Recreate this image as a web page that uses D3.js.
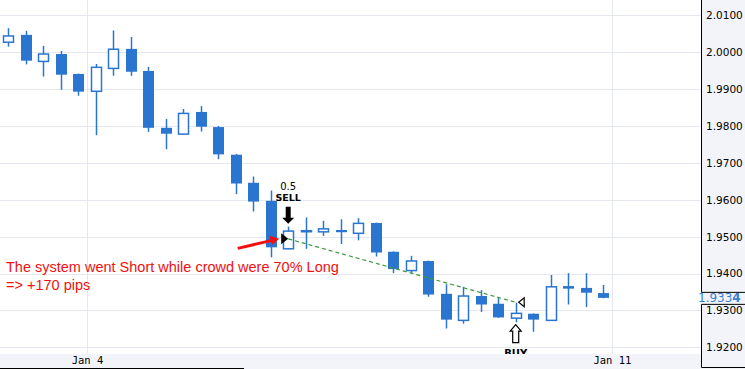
<!DOCTYPE html>
<html>
<head>
<meta charset="utf-8">
<script src="https://cdn.jsdelivr.net/npm/d3@7"></script>
<style>
  body { margin: 0; background: #fff; }
  svg { display: block; }
</style>
</head>
<body>
<div id="chart"></div>
<script>
// 4h candles
const opens  = [2.0027, 2.0047, 1.9975, 1.9995, 1.9941, 1.9894, 1.9956, 2.0009, 1.9949, 1.9795,
                1.9778, 1.9838, 1.9797, 1.9722, 1.9646, 1.9597, 1.9467, 1.9515, 1.9513, 1.9518,
                1.9509, 1.9537, 1.9459, 1.9408, 1.9434, 1.9345, 1.9273, 1.9339, 1.9318, 1.9279,
                1.9291, 1.9273, 1.9366, 1.9361, 1.9347];
const highs  = [2.0065, 2.0058, 2.0017, 2.0003, 1.9942, 1.9968, 2.0059, 2.0041, 1.9960, 1.9819,
                1.9846, 1.9854, 1.9800, 1.9724, 1.9663, 1.9625, 1.9527, 1.9552, 1.9543, 1.9547,
                1.9550, 1.9538, 1.9460, 1.9448, 1.9435, 1.9371, 1.9364, 1.9355, 1.9335, 1.9321,
                1.9292, 1.9396, 1.9401, 1.9401, 1.9369];
const lows   = [2.0015, 1.9967, 1.9934, 1.9898, 1.9882, 1.9775, 1.9936, 1.9936, 1.9784, 1.9737,
                1.9777, 1.9785, 1.9710, 1.9615, 1.9568, 1.9444, 1.9466, 1.9467, 1.9502, 1.9480,
                1.9490, 1.9446, 1.9401, 1.9401, 1.9337, 1.9251, 1.9264, 1.9296, 1.9280, 1.9268,
                1.9242, 1.9272, 1.9316, 1.9309, 1.9333];
const closes = [2.0044, 1.9977, 1.9995, 1.9939, 1.9893, 1.9959, 2.0008, 1.9947, 1.9795, 1.9779,
                1.9834, 1.9798, 1.9723, 1.9644, 1.9595, 1.9471, 1.9515, 1.9516, 1.9521, 1.9512,
                1.9536, 1.9457, 1.9412, 1.9434, 1.9343, 1.9275, 1.9339, 1.9316, 1.9281, 1.9292,
                1.9275, 1.9364, 1.9359, 1.9348, 1.9334];

const priceTicks = [1.92, 1.93, 1.94, 1.95, 1.96, 1.97, 1.98, 1.99, 2.00, 2.01];
const dateTicks  = [4.5, 34.5];        // day boundaries (candle index)
const dateLabels = ["Jan 4", "Jan 11"];
const lastPrice = 1.9334;

const entry = { i: 16, price: 1.9494, size: "0.5", side: "SELL" };
const exit  = { i: 29, price: 1.9322, side: "BUY" };
const noteLines = ["The system went Short while crowd were 70% Long", "=> +170 pips"];

const width = 745, height = 369;
const plotRight = 701, plotBottom = 354;
const blue = "#2a75cf";

const candles = opens.map((o, i) => ({ i, o, h: highs[i], l: lows[i], c: closes[i] }));

const x = d3.scaleLinear().domain([0, 34]).range([8.2, 603.2]);
const y = d3.scaleLinear().domain([1.92, 2.01]).range([347.3, 15.3]);

const svg = d3.select("#chart").append("svg")
  .attr("width", width)
  .attr("height", height)
  .style("font-family", "DejaVu Sans, sans-serif");

// gridlines
svg.append("g").selectAll("line")
  .data(priceTicks)
  .enter().append("line")
  .attr("x1", 0).attr("x2", plotRight)
  .attr("y1", d => Math.round(y(d)) + 0.5).attr("y2", d => Math.round(y(d)) + 0.5)
  .attr("stroke", "#e6e8ef");
svg.append("g").selectAll("line")
  .data(dateTicks)
  .enter().append("line")
  .attr("x1", d => Math.round(x(d)) + 0.5).attr("x2", d => Math.round(x(d)) + 0.5)
  .attr("y1", 0).attr("y2", plotBottom)
  .attr("stroke", "#e6e8ef");

// candles
const g = svg.append("g");
g.selectAll("line.wick")
  .data(candles)
  .enter().append("line")
  .attr("class", "wick")
  .attr("x1", d => Math.round(x(d.i)) + 0.5)
  .attr("x2", d => Math.round(x(d.i)) + 0.5)
  .attr("y1", d => y(d.h))
  .attr("y2", d => y(d.l))
  .attr("stroke", blue)
  .attr("stroke-width", 1.5);
g.selectAll("rect.body")
  .data(candles)
  .enter().append("rect")
  .attr("class", "body")
  .attr("x", d => d.c >= d.o ? Math.round(x(d.i)) - 4.5 : Math.round(x(d.i)) - 5)
  .attr("width", d => d.c >= d.o ? 10 : 11)
  .attr("y", d => y(Math.max(d.o, d.c)))
  .attr("height", d => Math.max(1, Math.abs(y(d.o) - y(d.c))))
  .attr("fill", d => d.c >= d.o ? "#fff" : blue)
  .attr("stroke", d => d.c >= d.o ? blue : "none")
  .attr("stroke-width", 1.5);

// trade line
svg.append("line")
  .attr("x1", x(entry.i)).attr("y1", y(entry.price))
  .attr("x2", x(exit.i)).attr("y2", y(exit.price))
  .attr("stroke", "#3a9a3a")
  .attr("stroke-width", 1.2)
  .attr("stroke-dasharray", "4,3");

// entry marker + sell arrow
const ex = x(entry.i), ey = y(entry.price);
svg.append("path")
  .attr("d", `M${ex - 7},${ey - 5.5}L${ex},${ey}L${ex - 7},${ey + 5.5}Z`)
  .attr("fill", "#000");
const sTop = y(highs[entry.i]) - 3;
svg.append("path")
  .attr("d", `M${ex - 2.5},${sTop - 17}H${ex + 2.5}V${sTop - 6}H${ex + 6}L${ex},${sTop}L${ex - 6},${sTop - 6}H${ex - 2.5}Z`)
  .attr("fill", "#000");
svg.append("text")
  .attr("x", ex).attr("y", sTop - 34)
  .attr("text-anchor", "middle")
  .attr("font-size", 10)
  .text(entry.size);
svg.append("text")
  .attr("x", ex).attr("y", sTop - 23)
  .attr("text-anchor", "middle")
  .attr("font-size", 9.5)
  .attr("font-weight", "bold")
  .text(entry.side);

// red arrow to the entry
svg.append("line")
  .attr("x1", x(13) + 2).attr("y1", ey + 9.5)
  .attr("x2", ex - 16).attr("y2", ey + 1.5)
  .attr("stroke", "#f01010")
  .attr("stroke-width", 3);
svg.append("path")
  .attr("d", `M${ex - 9},${ey}L${ex - 19},${ey - 3}L${ex - 16},${ey + 6}Z`)
  .attr("fill", "#f01010");

// exit marker + buy arrow
const xx = x(exit.i), xy = y(exit.price);
svg.append("path")
  .attr("d", `M${xx + 3},${xy}L${xx + 8.5},${xy - 4.5}L${xx + 8.5},${xy + 4.5}Z`)
  .attr("fill", "#fff")
  .attr("stroke", "#000")
  .attr("stroke-width", 1.2);
const bTop = y(lows[exit.i]) + 2.5;
svg.append("path")
  .attr("d", `M${xx},${bTop}L${xx + 5.5},${bTop + 6.5}H${xx + 3}V${bTop + 18}H${xx - 3}V${bTop + 6.5}H${xx - 5.5}Z`)
  .attr("fill", "#fff")
  .attr("stroke", "#000")
  .attr("stroke-width", 1.2);
svg.append("text")
  .attr("x", xx).attr("y", bTop + 32)
  .attr("text-anchor", "middle")
  .attr("font-size", 10)
  .attr("font-weight", "bold")
  .text(exit.side);

// note
svg.append("g").selectAll("text")
  .data(noteLines)
  .enter().append("text")
  .attr("x", 6)
  .attr("y", (d, k) => 272 + k * 18)
  .attr("fill", "#f01010")
  .attr("font-family", "Liberation Sans, sans-serif")
  .attr("font-size", 14.5)
  .text(d => d);

// bottom strip + x axis
svg.append("rect")
  .attr("x", 0).attr("y", plotBottom)
  .attr("width", width).attr("height", height - plotBottom)
  .attr("fill", "#f3f4f9");
svg.append("line")
  .attr("x1", 0).attr("x2", 244)
  .attr("y1", 368.5).attr("y2", 368.5)
  .attr("stroke", "#000");
const xAxis = d3.axisBottom(x)
  .tickValues(dateTicks)
  .tickSize(0)
  .tickPadding(3)
  .tickFormat((d, k) => dateLabels[k]);
svg.append("g")
  .attr("transform", "translate(0," + plotBottom + ")")
  .call(xAxis)
  .call(a => a.select(".domain").remove())
  .selectAll("text")
  .attr("font-family", "DejaVu Sans Mono, monospace")
  .attr("font-size", 10.5)
  .attr("fill", "#000");

// right price axis
svg.append("rect")
  .attr("x", plotRight).attr("y", 0)
  .attr("width", width - plotRight).attr("height", height)
  .attr("fill", "#f3f4f9");
const yAxis = d3.axisRight(y)
  .tickValues(priceTicks)
  .tickSize(0)
  .tickPadding(5)
  .tickFormat(d3.format(".4f"));
svg.append("g")
  .attr("transform", "translate(" + plotRight + ",0)")
  .call(yAxis)
  .call(a => a.select(".domain").remove())
  .selectAll("text")
  .attr("font-family", "DejaVu Sans, sans-serif")
  .attr("font-size", 10.5)
  .attr("fill", "#000");

// axis frame, split around the last price
const lpY = y(lastPrice);
const frame = svg.append("g").attr("stroke", "#000").attr("fill", "none");
frame.append("path").attr("d", `M${plotRight + 0.5},0V${lpY - 5.5}H${width}`);
frame.append("path").attr("d", `M${width},${lpY + 6.5}H${plotRight + 0.5}V${367.5}H${width}`);

const lp = svg.append("text")
  .attr("x", 698).attr("y", lpY)
  .attr("dy", "0.35em")
  .attr("fill", "#3a7fd6")
  .attr("font-size", 12);
const lpStr = d3.format(".4f")(lastPrice);
lp.append("tspan").text(lpStr.slice(0, -1));
lp.append("tspan").attr("font-weight", "bold").text(lpStr.slice(-1));
</script>
</body>
</html>
